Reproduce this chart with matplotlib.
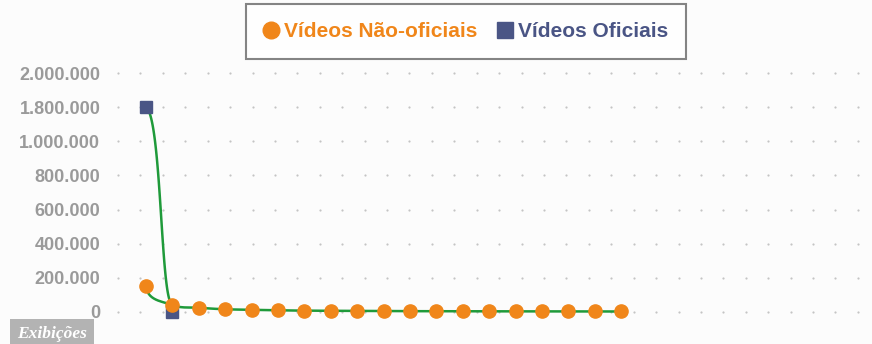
import numpy as np
import matplotlib
matplotlib.use("Agg")
import matplotlib.pyplot as plt
from matplotlib.lines import Line2D

# Exibições por vídeo
nao_oficiais = [153000, 41000, 25000, 16000, 13000, 10000, 8000, 7000, 6000, 5500,
                5000, 4500, 4200, 4000, 3800, 3500, 3300, 3100, 3000]
oficiais = [1800000, 2000]

# y axis ticks (the axis is compressed above 1.000.000)
tick_vals = [0, 200000, 400000, 600000, 800000, 1000000, 1800000, 2000000]
tick_pos = np.arange(len(tick_vals))

LARANJA = "#f0861a"
AZUL = "#4a5585"
VERDE = "#1f9a3a"
CINZA = "#9a9a9a"
FUNDO = "#fcfcfc"

tv = np.array(tick_vals, float)
tp = np.array(tick_pos, float)


def fwd(v):
    v = np.asarray(v, float)
    p = np.interp(v, tv, tp)
    p = np.where(v < tv[0], (v - tv[0]) / (tv[1] - tv[0]), p)
    p = np.where(v > tv[-1], tp[-1] + (v - tv[-1]) / (tv[-1] - tv[-2]), p)
    return p


def inv(p):
    p = np.asarray(p, float)
    v = np.interp(p, tp, tv)
    v = np.where(p < tp[0], tv[0] + p * (tv[1] - tv[0]), v)
    v = np.where(p > tp[-1], tv[-1] + (p - tp[-1]) * (tv[-1] - tv[-2]), v)
    return v


def catmull_rom(x, y, n=30):
    # smoothed line through every point (in axis position space)
    x = np.asarray(x, float)
    y = np.asarray(y, float)
    px = np.concatenate([[x[0]], x, [x[-1]]])
    py = np.concatenate([[y[0]], y, [y[-1]]])
    xs, ys = [], []
    t = np.linspace(0, 1, n)
    for i in range(1, len(px) - 2):
        p0, p1, p2, p3 = [np.array([px[j], py[j]]) for j in range(i - 1, i + 3)]
        c1 = p1 + (p2 - p0) / 6
        c2 = p2 - (p3 - p1) / 6
        if i == 1:
            # first segment leaves the point heading down, like the spreadsheet smoothing
            c1 = np.array([p1[0] + 0.05, p1[1] - 0.45])
        b = ((1 - t) ** 3)[:, None] * p1 + (3 * (1 - t) ** 2 * t)[:, None] * c1 \
            + (3 * (1 - t) * t ** 2)[:, None] * c2 + (t ** 3)[:, None] * p2
        xs.append(b[:, 0])
        ys.append(b[:, 1])
    return np.concatenate(xs), np.concatenate(ys)


plt.rcParams["font.family"] = ["Liberation Sans", "DejaVu Sans"]

W, H = 872, 344
fig = plt.figure(figsize=(W / 100, H / 100), dpi=100, facecolor=FUNDO)
ax = fig.add_axes([110 / W, 1 - 322 / H, 756 / W, 259 / H])
ax.set_facecolor(FUNDO)
ax.set_yscale("function", functions=(fwd, inv))

# dotted background grid
gx = (118 - 110) / 756 + np.arange(34) * 22.42 / 756
gy = (322 - 312) / 259 + tp * 34.14 / 259
GX, GY = np.meshgrid(gx, gy)
ax.scatter(GX.ravel(), GY.ravel(), s=2.5, color="#c4c4c4", transform=ax.transAxes,
           zorder=0, clip_on=False, linewidths=0)

xo = np.arange(len(nao_oficiais))
xf = np.arange(len(oficiais))

# smoothed trend lines
sx, sy = catmull_rom(xo, fwd(nao_oficiais))
ax.plot(sx, inv(sy), color=VERDE, lw=1.8, zorder=2)

p0 = np.array([xf[0], float(fwd(oficiais[0]))])
p1 = np.array([xf[1], float(fwd(oficiais[1])) + 0.22])
c1 = np.array([0.6, p0[1] - 0.3])
c2 = np.array([0.55, p1[1]])
t = np.linspace(0, 1, 80)[:, None]
curva = (1 - t) ** 3 * p0 + 3 * (1 - t) ** 2 * t * c1 + 3 * (1 - t) * t ** 2 * c2 + t ** 3 * p1
ax.plot(curva[:, 0], inv(curva[:, 1]), color=VERDE, lw=1.8, zorder=2)

ax.plot(xf, oficiais, ls="none", marker="s", ms=8, color=AZUL, zorder=3)
ax.plot(xo, nao_oficiais, ls="none", marker="o", ms=9.5, color=LARANJA, zorder=4)

ax.set_xlim((110 - 146) / 26.4, (866 - 146) / 26.4)
ax.set_ylim(inv(-10 / 34.14), inv(7 + 10 / 34.14))
ax.set_yticks(tick_vals)
ax.set_yticklabels([f"{v:,}".replace(",", ".") for v in tick_vals])
ax.tick_params(axis="y", length=0, pad=7, labelsize=13, labelcolor=CINZA)
for lab in ax.get_yticklabels():
    lab.set_fontweight("bold")
ax.set_xticks([])
for s in ax.spines.values():
    s.set_visible(False)

handles = [
    Line2D([], [], ls="none", marker="o", ms=12, color=LARANJA),
    Line2D([], [], ls="none", marker="s", ms=11, color=AZUL),
]
leg = fig.legend(handles, ["Vídeos Não-oficiais", "Vídeos Oficiais"], ncol=2,
                 loc="center", bbox_to_anchor=(466 / W, 1 - 31.5 / H),
                 frameon=True, fancybox=False, edgecolor="#666666", facecolor="white",
                 prop={"weight": "bold", "size": 15}, handlelength=0.7,
                 handletextpad=0.25, columnspacing=1.0, borderpad=0.85)
leg.get_frame().set_linewidth(1.5)
leg.get_texts()[0].set_color(LARANJA)
leg.get_texts()[1].set_color(AZUL)

fig.text(52 / W, 1 - 334 / H, "Exibições", family="Liberation Serif", style="italic",
         weight="bold", color="white", fontsize=12.5, ha="center", va="center",
         bbox=dict(boxstyle="square,pad=0.4", fc="#b3b3b3", ec="none"))

fig.savefig("out.png", dpi=100, facecolor=FUNDO)
